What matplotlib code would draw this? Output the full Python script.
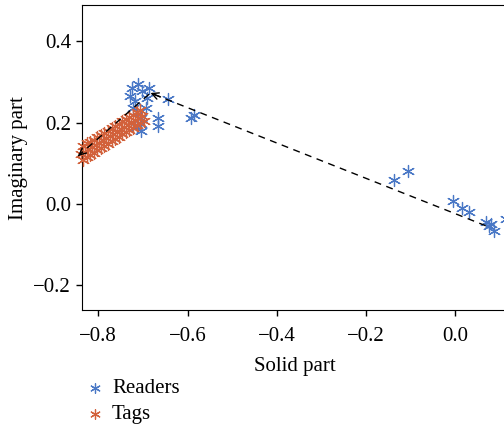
import matplotlib

matplotlib.use("Agg")
import matplotlib.pyplot as plt

# Readers (blue) points
readers_x = [-0.724, -0.710, -0.687, -0.728, -0.717, -0.690, -0.701, -0.721,
             -0.705, -0.713, -0.705, -0.705, -0.694, -0.644, -0.665, -0.667,
             -0.593, -0.585, -0.137, -0.107, -0.006, 0.015, 0.031, 0.068,
             0.076, 0.087, 0.080, 0.113]
readers_y = [0.285, 0.295, 0.285, 0.266, 0.253, 0.261, 0.278, 0.237,
             0.212, 0.188, 0.197, 0.180, 0.236, 0.258, 0.212, 0.192,
             0.212, 0.219, 0.058, 0.082, 0.006, -0.011, -0.021, -0.046,
             -0.054, -0.066, -0.050, -0.037]

# Tags (orange) points, a dense band
tags_x = [-0.838, -0.830, -0.822, -0.814, -0.806, -0.798, -0.790, -0.782, -0.774,
          -0.766, -0.758, -0.750, -0.742, -0.734, -0.726, -0.718, -0.710, -0.702,
          -0.834, -0.826, -0.818, -0.810, -0.802, -0.794, -0.786, -0.778, -0.770,
          -0.762, -0.754, -0.746, -0.738, -0.730, -0.722, -0.714, -0.706, -0.698,
          -0.834, -0.826, -0.818, -0.810, -0.802, -0.794, -0.786, -0.778, -0.770,
          -0.762, -0.754, -0.746, -0.738, -0.730, -0.722, -0.714, -0.706]
tags_y = [0.123, 0.128, 0.134, 0.139, 0.145, 0.151, 0.156, 0.162, 0.167,
          0.173, 0.178, 0.184, 0.189, 0.195, 0.200, 0.206, 0.211, 0.217,
          0.108, 0.115, 0.121, 0.126, 0.132, 0.137, 0.143, 0.148, 0.154,
          0.160, 0.165, 0.171, 0.176, 0.182, 0.187, 0.193, 0.198, 0.204,
          0.142, 0.150, 0.153, 0.158, 0.164, 0.169, 0.175, 0.180, 0.186,
          0.192, 0.197, 0.203, 0.208, 0.214, 0.219, 0.225, 0.232]

# dashed path with arrow heads at its two later vertices
path_x = [0.068, -0.683, -0.845]
path_y = [-0.054, 0.273, 0.118]

xticks = [-0.8, -0.6, -0.4, -0.2, 0.0]
yticks = [-0.2, 0.0, 0.2, 0.4]

BLUE = "#4a78c6"
ORANGE = "#d2613b"

plt.rcParams["font.family"] = ["Liberation Serif", "DejaVu Serif"]
plt.rcParams["font.size"] = 15

fig = plt.figure(figsize=(5.04, 4.28), dpi=100)
ax = fig.add_axes([0.163, 0.2757, 0.845, 0.712])

star = (6, 2, 0)
ax.scatter(readers_x, readers_y, marker=star, s=75, color=BLUE, linewidths=0.9,
           label="Readers", clip_on=False, zorder=2)
ax.scatter(tags_x, tags_y, marker=star, s=75, color=ORANGE, linewidths=0.9,
           label="Tags", clip_on=False, zorder=3)

ax.plot(path_x, path_y, color="black", lw=1, ls=(0, (5, 4)), clip_on=False, zorder=4)
for i in range(1, len(path_x)):
    x0, y0 = path_x[i - 1], path_y[i - 1]
    x1, y1 = path_x[i], path_y[i]
    ax.annotate("", xy=(x1, y1), xytext=(x1 + 0.03 * (x0 - x1), y1 + 0.03 * (y0 - y1)),
                arrowprops=dict(arrowstyle="->", color="black", lw=1,
                                shrinkA=0, shrinkB=0, mutation_scale=12),
                annotation_clip=False, zorder=5)

ax.set_xlim(-0.836, 0.118)
ax.set_ylim(-0.2615, 0.489)
ax.set_xticks(xticks)
ax.set_yticks(yticks)
ax.tick_params(direction="out", length=4, width=1, pad=4)
ax.tick_params(axis="x", pad=8)
ax.spines["right"].set_visible(False)
ax.set_xlabel("Solid part", labelpad=8)
ax.set_ylabel("Imaginary part", labelpad=4)

fig.legend(loc="upper left", bbox_to_anchor=(0.152, 0.135), frameon=False,
           handletextpad=0.3, labelspacing=0.3, borderaxespad=0, handlelength=1.0,
           markerscale=0.8)

fig.savefig("out.png", dpi=100)
